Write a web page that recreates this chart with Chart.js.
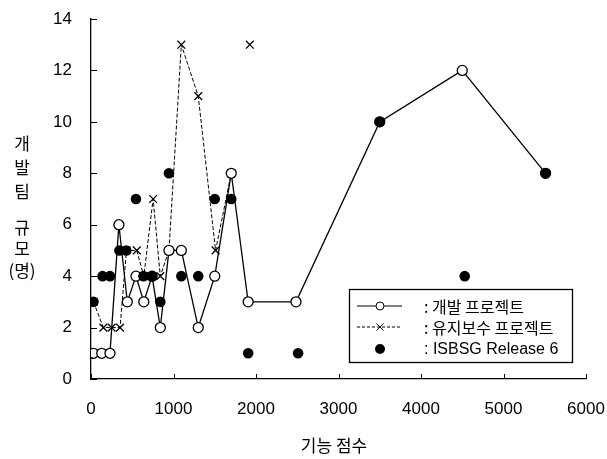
<!DOCTYPE html>
<html>
<head>
<meta charset="utf-8">
<script src="https://cdn.jsdelivr.net/npm/chart.js@4"></script>
<style>
  body { margin: 0; background: #fff; }
  #wrap { width: 607px; height: 459px; }
</style>
</head>
<body>
<div id="wrap"><canvas id="chart" width="607" height="459"></canvas></div>
<script>
// 개발 프로젝트
const devX = [30, 130, 230, 338, 440, 545, 640, 740, 840, 945, 1095, 1300, 1500, 1700, 1905, 2485, 3500, 4500, 5510];
const devY = [1, 1, 1, 6, 3, 4, 3, 4, 2, 5, 5, 2, 4, 8, 3, 3, 10, 12, 8];

// 유지보수 프로젝트 (null = break in the line)
const mntX = [30, 150, 250, 352, 430, 555, 640, 753, 840, 945, 1095, 1300, 1510, 1700, 1800, 1925];
const mntY = [3, 2, 2, 2, 5, 5, 4, 7, 4, 5, 13, 11, 5, 8, null, 13];

// ISBSG Release 6
const isbX = [30, 140, 230, 345, 428, 545, 636, 740, 840, 945, 1095, 1300, 1500, 1700, 1905, 2510, 3500, 4530, 5510];
const isbY = [3, 4, 4, 5, 5, 7, 4, 4, 3, 8, 4, 4, 7, 7, 1, 1, 10, 4, 8];

const xTicks = [0, 1000, 2000, 3000, 4000, 5000, 6000];
const yTicks = [0, 2, 4, 6, 8, 10, 12, 14];

const yTitle = ['개', '발', '팀', '', '규', '모', '(명)'];
const xTitle = '기능 점수';
const legendText = [': 개발 프로젝트', ': 유지보수 프로젝트', ': ISBSG Release 6'];

const toPoints = (xs, ys) => xs.map((x, i) => ({ x: x, y: ys[i] }));

const tickFont = { family: 'Liberation Sans', size: 17 };
const korFont = '"Noto Sans CJK KR", sans-serif';

// inward tick marks on both axes
const innerTicks = {
  id: 'innerTicks',
  afterDraw(chart) {
    const ctx = chart.ctx;
    const xs = chart.scales.x, ys = chart.scales.y;
    ctx.save();
    ctx.strokeStyle = '#000';
    ctx.lineWidth = 1;
    ctx.beginPath();
    xTicks.forEach(v => {
      const px = Math.round(xs.getPixelForValue(v)) + 0.5;
      ctx.moveTo(px, ys.bottom);
      ctx.lineTo(px, ys.bottom - 5);
    });
    yTicks.forEach(v => {
      const py = Math.round(ys.getPixelForValue(v)) + 0.5;
      ctx.moveTo(xs.left, py);
      ctx.lineTo(xs.left + 6, py);
    });
    ctx.stroke();
    ctx.restore();
  }
};

// axis titles
const axisTitles = {
  id: 'axisTitles',
  afterDraw(chart) {
    const ctx = chart.ctx;
    ctx.save();
    ctx.fillStyle = '#000';
    ctx.textAlign = 'center';
    ctx.textBaseline = 'middle';
    ctx.font = '17px ' + korFont;
    const rowY = [144, 168, 192, 0, 228, 249, 271];
    yTitle.forEach((t, i) => { if (t) ctx.fillText(t, 22, rowY[i]); });
    ctx.fillText(xTitle, 334, 446);
    ctx.restore();
  }
};

// boxed legend with line + marker samples
const boxLegend = {
  id: 'boxLegend',
  afterDraw(chart) {
    const ctx = chart.ctx;
    const left = 349, top = 289, w = 223, h = 73;
    ctx.save();
    ctx.fillStyle = '#fff';
    ctx.fillRect(left, top, w, h);
    ctx.strokeStyle = '#000';
    ctx.lineWidth = 1.3;
    ctx.strokeRect(left + 0.5, top + 0.5, w, h);

    const rows = [306, 327, 349];
    const sx0 = 357, sx1 = 402, mx = 380;
    ctx.lineWidth = 1;

    // row 1: solid line + open circle
    ctx.beginPath();
    ctx.moveTo(sx0, rows[0]); ctx.lineTo(sx1, rows[0]);
    ctx.stroke();
    ctx.beginPath();
    ctx.arc(mx, rows[0], 4, 0, Math.PI * 2);
    ctx.fill();
    ctx.stroke();

    // row 2: dashed line + x
    ctx.setLineDash([3, 2]);
    ctx.beginPath();
    ctx.moveTo(sx0, rows[1]); ctx.lineTo(sx1, rows[1]);
    ctx.stroke();
    ctx.setLineDash([]);
    ctx.beginPath();
    ctx.moveTo(mx - 3.5, rows[1] - 3.5); ctx.lineTo(mx + 3.5, rows[1] + 3.5);
    ctx.moveTo(mx + 3.5, rows[1] - 3.5); ctx.lineTo(mx - 3.5, rows[1] + 3.5);
    ctx.stroke();

    // row 3: filled dot
    ctx.fillStyle = '#000';
    ctx.beginPath();
    ctx.arc(mx, rows[2], 5, 0, Math.PI * 2);
    ctx.fill();

    ctx.textBaseline = 'middle';
    ctx.textAlign = 'left';
    legendText.forEach((t, i) => {
      ctx.font = (i === 2 ? '16px "Liberation Sans"' : '16px ' + korFont);
      ctx.fillText(t, 424, rows[i] + 1);
    });
    ctx.restore();
  }
};

new Chart(document.getElementById('chart'), {
  type: 'scatter',
  data: {
    datasets: [
      {
        label: 'ISBSG Release 6',
        data: toPoints(isbX, isbY),
        showLine: false,
        pointStyle: 'circle',
        pointRadius: 5.3,
        pointBackgroundColor: '#000',
        pointBorderColor: '#000',
        pointBorderWidth: 0
      },
      {
        label: '개발 프로젝트',
        data: toPoints(devX, devY),
        showLine: true,
        borderColor: '#000',
        borderWidth: 1.3,
        pointStyle: 'circle',
        pointRadius: 5,
        pointBackgroundColor: '#fff',
        pointBorderColor: '#000',
        pointBorderWidth: 1.3
      },
      {
        label: '유지보수 프로젝트',
        data: toPoints(mntX, mntY),
        showLine: true,
        spanGaps: false,
        borderColor: '#000',
        borderWidth: 1,
        borderDash: [4, 2],
        pointStyle: 'crossRot',
        pointRadius: 5.5,
        pointBorderColor: '#000',
        pointBorderWidth: 1.3
      }
    ]
  },
  options: {
    responsive: false,
    animation: false,
    layout: { padding: { left: 0, top: 19, right: 21, bottom: 0 } },
    plugins: {
      legend: { display: false },
      tooltip: { enabled: false }
    },
    scales: {
      x: {
        type: 'linear',
        min: 0,
        max: 6000,
        afterFit(scale) { scale.height = 80; scale.paddingLeft = 0; scale.paddingRight = 0; },
        afterBuildTicks(scale) { scale.ticks = xTicks.map(v => ({ value: v })); },
        grid: { display: true, drawOnChartArea: false, drawTicks: false },
        border: { display: true, color: '#000', width: 1.3 },
        ticks: { color: '#000', font: tickFont, padding: 20, maxRotation: 0, callback: v => String(v) }
      },
      y: {
        type: 'linear',
        min: 0,
        max: 14,
        afterFit(scale) { scale.width = 91; scale.paddingTop = 0; scale.paddingBottom = 0; },
        afterBuildTicks(scale) { scale.ticks = yTicks.map(v => ({ value: v })); },
        grid: { display: true, drawOnChartArea: false, drawTicks: false },
        border: { display: true, color: '#000', width: 1.3 },
        ticks: { color: '#000', font: tickFont, padding: 19, callback: v => String(v) }
      }
    }
  },
  plugins: [innerTicks, axisTitles, boxLegend]
});
</script>
</body>
</html>
